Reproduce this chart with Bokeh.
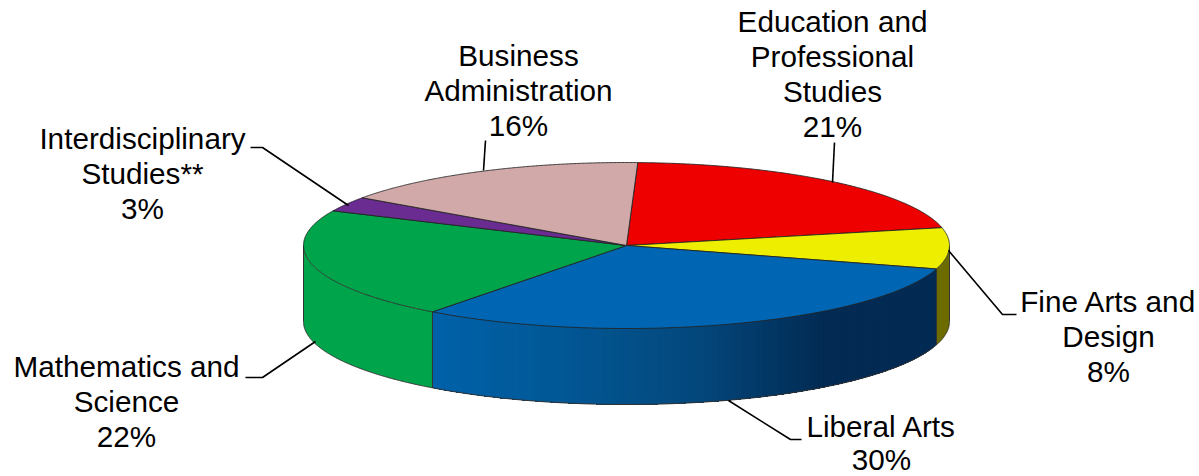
import numpy as np
from bokeh.plotting import figure
from bokeh.models import Range1d
from bokeh.core.properties import value
from bokeh.embed import file_html
from bokeh.resources import INLINE

# ---- data
categories = ["Education and\nProfessional\nStudies", "Fine Arts and\nDesign", "Liberal Arts",
              "Mathematics and\nScience", "Interdisciplinary\nStudies**", "Business\nAdministration"]
labels_pct = [21, 8, 30, 22, 3, 16]
shares = [21.0, 8.0, 30.7, 21.6, 2.9, 15.8]
top_colors = ["#EE0000", "#EEEE00", "#0066B3", "#00A44A", "#6A2C91", "#D2A9A9"]
wall_colors = [None, "#6B6B00", None, "#00A44A", None, None]

# ---- layout
W, H = 1199, 476
CX, CY, RX, RY, DEPTH = 626.0, 245.0, 323.0, 83.0, 76.0
START = 2.0
FONT = "Liberation Sans"
FS = "29.7px"
LH = 35.0

p = figure(width=W, height=H, output_backend="svg", toolbar_location=None,
           x_range=Range1d(0, W), y_range=Range1d(H, 0),
           min_border=0, outline_line_color=None)
p.axis.visible = False
p.grid.visible = False
p.background_fill_color = "white"
p.border_fill_color = "white"

def pt(a):
    r = np.radians(a)
    return CX + RX * np.sin(r), CY - RY * np.cos(r)

edges = START + np.concatenate([[0], np.cumsum(shares)]) * 3.6

def wall_shade(x):
    anchors_x = [434, 560, 700, 830, 940]
    r = [0, 2, 4, 2, 2]
    g = [98, 88, 72, 42, 42]
    b = [170, 150, 125, 82, 82]
    return "#%02x%02x%02x" % (int(np.interp(x, anchors_x, r)), int(np.interp(x, anchors_x, g)), int(np.interp(x, anchors_x, b)))

# visible walls: the front half of the rim
for i, (a0, a1) in enumerate(zip(edges[:-1], edges[1:])):
    lo, hi = max(a0, 90), min(a1, 270)
    if lo >= hi:
        continue
    ang_o = np.linspace(lo, hi, 240)
    xt, yt = pt(ang_o)
    if wall_colors[i] is None:
        # painted from right to left, each band reaching to the far end, so no seams show
        for j in range(0, 240, 3):
            a = ang_o[j:]
            xa, ya = pt(a)
            p.patch(np.r_[xa, xa[::-1]], np.r_[ya, ya[::-1] + DEPTH],
                    fill_color=wall_shade(xa[0]), line_color=None)
    else:
        p.patch(np.r_[xt, xt[::-1]], np.r_[yt, yt[::-1] + DEPTH], fill_color=wall_colors[i], line_color=None)
    p.line(xt, yt + DEPTH, line_color="#333333", line_width=1)
    for a in (lo, hi):
        xe, ye = pt(a)
        p.line([xe, xe], [ye, ye + DEPTH], line_color="#333333", line_width=1)

# top wedges
for a0, a1, c in zip(edges[:-1], edges[1:], top_colors):
    ang = np.linspace(a0, a1, 240)
    xt, yt = pt(ang)
    p.patch(np.r_[CX, xt], np.r_[CY, yt], fill_color=c, line_color="#222222", line_width=1, line_alpha=0.85)

# leader lines
leaders = [
    ([834, 832], [142, 182]),
    ([948, 1002, 1016], [250, 314, 314]),
    ([728, 790, 801], [400, 439, 439]),
    ([315, 262, 245], [341, 377, 377]),
    ([250, 262, 348], [147, 147, 205]),
    ([485, 483], [140, 170]),
]
for lx, ly in leaders:
    p.line(lx, ly, line_color="black", line_width=1.6)

# labels: centre x, y of first line
label_pos = [(832, 21), (1108, 301), (881, 426), (126, 366), (142, 137.5), (518, 54.5)]
for name, pct, (lx, ly) in zip(categories, labels_pct, label_pos):
    lines = name.split("\n") + ["%d%%" % pct]
    lh = 33 if name == "Liberal Arts" else LH
    p.text([lx] * len(lines), [ly + k * lh for k in range(len(lines))], text=lines,
           text_font=value(FONT), text_font_size=value(FS), text_color="black",
           text_align="center", text_baseline="middle")

open("out.html", "w").write(file_html(p, INLINE))
